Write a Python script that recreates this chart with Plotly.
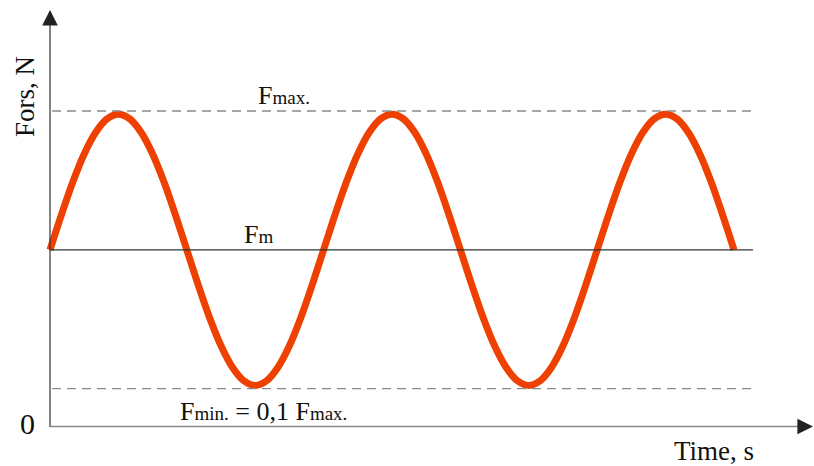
import plotly.graph_objects as go

# ---- data (force relative to F_max) ----
time = [0.0, 0.25, 0.5, 0.75, 1.0, 1.25, 1.5, 1.75, 2.0, 2.25, 2.5, 2.75,
        3.0, 3.25, 3.5, 3.75, 4.0, 4.25, 4.5, 4.75, 5.0, 5.25, 5.5, 5.75,
        6.0, 6.25, 6.5, 6.75, 7.0, 7.25, 7.5, 7.75, 8.0, 8.25, 8.5, 8.75,
        9.0, 9.25, 9.5, 9.75, 10.0, 10.25, 10.5, 10.75, 11.0, 11.25, 11.5, 11.75,
        12.0, 12.25, 12.5, 12.75, 13.0, 13.25, 13.5, 13.75, 14.0, 14.25, 14.5, 14.75,
        15.0]
force = [0.56, 0.671, 0.775, 0.864, 0.932, 0.975, 0.99, 0.975, 0.932, 0.864, 0.775, 0.671,
         0.56, 0.449, 0.345, 0.256, 0.188, 0.145, 0.13, 0.145, 0.188, 0.256, 0.345, 0.449,
         0.56, 0.671, 0.775, 0.864, 0.932, 0.975, 0.99, 0.975, 0.932, 0.864, 0.775, 0.671,
         0.56, 0.449, 0.345, 0.256, 0.188, 0.145, 0.13, 0.145, 0.188, 0.256, 0.345, 0.449,
         0.56, 0.671, 0.775, 0.864, 0.932, 0.975, 0.99, 0.975, 0.932, 0.864, 0.775, 0.671,
         0.56]
F_MAX = 1.0
F_MEAN = 0.56
F_MIN = 0.12
LINE_END = 15.34

# ---- layout geometry (pixels -> data) ----
W, H = 814, 466
X0, SX = 50.0, 45.6     # pixel of t=0, pixels per time unit
Y0, SY = 426.5, 315.5   # pixel of F=0, pixels per force unit


def tx(px):
    return (px - X0) / SX


def fy(py):
    return (Y0 - py) / SY


FONT = "Liberation Serif"
TXT = "#111111"

fig = go.Figure()
fig.add_trace(go.Scatter(
    x=time, y=force, mode="lines",
    line=dict(color="#EE4000", width=7, shape="spline", smoothing=1.0),
    hoverinfo="skip", showlegend=False,
))

shapes = [
    # axes
    dict(type="line", xref="x", yref="y", x0=0, x1=0, y0=fy(427), y1=fy(22),
         line=dict(color="#333333", width=1.2)),
    dict(type="line", xref="x", yref="y", x0=0, x1=tx(800), y0=0, y1=0,
         line=dict(color="#8a8a8a", width=1.6)),
    # reference levels
    dict(type="line", xref="x", yref="y", x0=tx(52), x1=tx(753), y0=F_MAX, y1=F_MAX,
         line=dict(color="#8a8a8a", width=1.3, dash="9px,6px")),
    dict(type="line", xref="x", yref="y", x0=0, x1=tx(753), y0=F_MEAN, y1=F_MEAN,
         line=dict(color="#333333", width=1.2)),
    dict(type="line", xref="x", yref="y", x0=tx(52), x1=tx(755), y0=F_MIN, y1=F_MIN,
         line=dict(color="#8a8a8a", width=1.3, dash="9px,6px")),
]

SUB = '<span style="font-size:19px">{}</span>'
ann = [
    # arrowheads
    dict(x=0, y=fy(10), ax=0, ay=fy(24), xref="x", yref="y", axref="x", ayref="y",
         text="", showarrow=True, arrowhead=2, arrowsize=2.4, arrowwidth=1.3,
         arrowcolor="#222222"),
    dict(x=tx(813), y=0, ax=tx(798), ay=0, xref="x", yref="y", axref="x", ayref="y",
         text="", showarrow=True, arrowhead=2, arrowsize=2.4, arrowwidth=1.3,
         arrowcolor="#222222"),
    # labels
    dict(x=tx(256), y=fy(95.5), xref="x", yref="y", xanchor="left", yanchor="middle",
         text="F" + SUB.format("max."), showarrow=False,
         font=dict(family=FONT, size=26, color=TXT)),
    dict(x=tx(242), y=fy(234), xref="x", yref="y", xanchor="left", yanchor="middle",
         text="F" + SUB.format("m"), showarrow=False,
         font=dict(family=FONT, size=26, color=TXT)),
    dict(x=tx(178), y=fy(411.5), xref="x", yref="y", xanchor="left", yanchor="middle",
         text="F" + SUB.format("min.") + " = 0,1 F" + SUB.format("max."), showarrow=False,
         font=dict(family=FONT, size=26, color=TXT)),
    dict(x=tx(27), y=fy(423), xref="x", yref="y", xanchor="center", yanchor="middle",
         text="0", showarrow=False, font=dict(family=FONT, size=30, color=TXT)),
    dict(x=tx(672), y=fy(451), xref="x", yref="y", xanchor="left", yanchor="middle",
         text="Time, s", showarrow=False, font=dict(family=FONT, size=27, color=TXT)),
    dict(x=tx(25), y=fy(97), xref="x", yref="y", xanchor="center", yanchor="middle",
         text="Fors, N", textangle=-90, showarrow=False,
         font=dict(family=FONT, size=27, color=TXT)),
]

fig.update_layout(
    width=W, height=H,
    margin=dict(l=0, r=0, t=0, b=0),
    paper_bgcolor="white", plot_bgcolor="white",
    xaxis=dict(range=[tx(0), tx(W)], visible=False, fixedrange=True),
    yaxis=dict(range=[fy(H), fy(0)], visible=False, fixedrange=True),
    shapes=shapes, annotations=ann, showlegend=False,
)

fig.write_html(
    "out.html",
    config={"displayModeBar": False},
    post_script="document.body.style.margin='0';document.body.style.overflow='hidden';",
)
